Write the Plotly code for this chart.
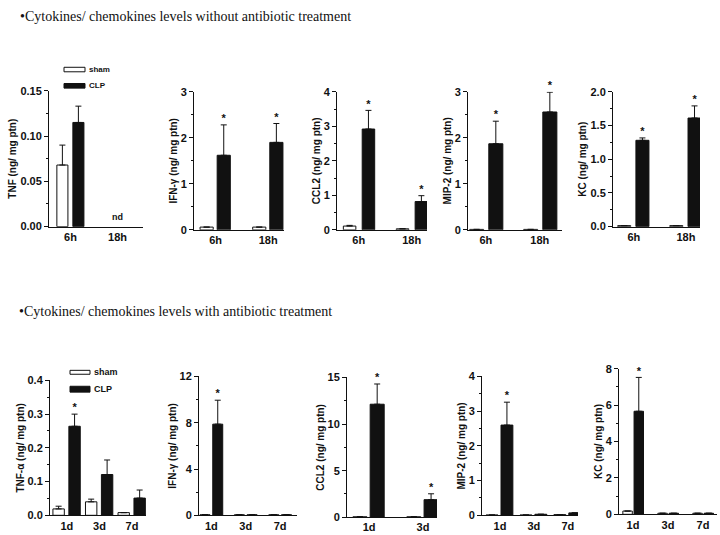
import plotly.graph_objects as go

# ---------------- data ----------------
top_categories = ["6h", "18h"]
bottom_categories = ["1d", "3d", "7d"]
ccl2_abx_categories = ["1d", "3d"]

# without antibiotic treatment
tnf_sham = [0.068, None]
tnf_sham_err = [0.022, None]
tnf_clp = [0.115, None]
tnf_clp_err = [0.018, None]
tnf_sig = [False, False]

ifn_sham = [0.06, 0.06]
ifn_sham_err = [0, 0]
ifn_clp = [1.62, 1.90]
ifn_clp_err = [0.66, 0.41]
ifn_sig = [True, True]

ccl2_sham = [0.11, 0.03]
ccl2_sham_err = [0.02, 0]
ccl2_clp = [2.92, 0.82]
ccl2_clp_err = [0.54, 0.17]
ccl2_sig = [True, True]

mip2_sham = [0.01, 0.01]
mip2_sham_err = [0, 0]
mip2_clp = [1.87, 2.56]
mip2_clp_err = [0.49, 0.43]
mip2_sig = [True, True]

kc_sham = [0.015, 0.015]
kc_sham_err = [0, 0]
kc_clp = [1.28, 1.61]
kc_clp_err = [0.035, 0.18]
kc_sig = [True, True]

# with antibiotic treatment
tnfa_abx_sham = [0.019, 0.040, 0.008]
tnfa_abx_sham_err = [0.008, 0.008, 0]
tnfa_abx_clp = [0.264, 0.121, 0.051]
tnfa_abx_clp_err = [0.036, 0.043, 0.024]
tnfa_abx_sig = [True, False, False]

ifn_abx_sham = [0.05, 0.05, 0.05]
ifn_abx_sham_err = [0, 0, 0]
ifn_abx_clp = [7.88, 0.05, 0.05]
ifn_abx_clp_err = [2.07, 0, 0]
ifn_abx_sig = [True, False, False]

ccl2_abx_sham = [0.05, 0.05]
ccl2_abx_sham_err = [0, 0]
ccl2_abx_clp = [12.13, 1.89]
ccl2_abx_clp_err = [2.17, 0.63]
ccl2_abx_sig = [True, True]

mip2_abx_sham = [0.01, 0.01, 0.02]
mip2_abx_sham_err = [0, 0, 0]
mip2_abx_clp = [2.60, 0.03, 0.07]
mip2_abx_clp_err = [0.66, 0, 0]
mip2_abx_sig = [True, False, False]

kc_abx_sham = [0.18, 0.06, 0.06]
kc_abx_sham_err = [0, 0, 0]
kc_abx_clp = [5.66, 0.06, 0.06]
kc_abx_clp_err = [1.86, 0, 0]
kc_abx_sig = [True, False, False]

y_titles = {
    "tnf": "TNF (ng/ mg ptn)",
    "ifn": "IFN-γ (ng/ mg ptn)",
    "ccl2": "CCL2 (ng/ mg ptn)",
    "mip2": "MIP-2 (ng/ mg ptn)",
    "kc": "KC (ng/ mg ptn)",
    "tnfa": "TNF-α (ng/ mg ptn)",
}
title_top = "•Cytokines/ chemokines levels without antibiotic treatment"
title_bottom = "•Cytokines/ chemokines levels with antibiotic treatment"

# ---------------- layout helpers ----------------
W, H = 720, 535
BLACK = "#111111"


def px_x(p):
    return p / W


def px_y(p):
    return 1 - p / H


panels = [
    # cats, sham, sham_err, clp, clp_err, sig, title, (left,right,top,bottom px), ymax, dtick, fmt, xrange, bar width, sham offset, clp offset
    (top_categories, tnf_sham, tnf_sham_err, tnf_clp, tnf_clp_err, tnf_sig, y_titles["tnf"],
     (49, 143, 86.7, 225.7), 0.15, 0.05, ".2f", [-0.457, 1.54], 0.235, -0.29, 0.05),
    (top_categories, ifn_sham, ifn_sham_err, ifn_clp, ifn_clp_err, ifn_sig, y_titles["ifn"],
     (194, 284, 87.7, 229), 3, 1, "d", [-0.41, 1.30], 0.25, -0.295, 0.03),
    (top_categories, ccl2_sham, ccl2_sham_err, ccl2_clp, ccl2_clp_err, ccl2_sig, y_titles["ccl2"],
     (337, 427, 87.7, 229), 4, 1, "d", [-0.41, 1.29], 0.236, -0.29, 0.066),
    (top_categories, mip2_sham, mip2_sham_err, mip2_clp, mip2_clp_err, mip2_sig, y_titles["mip2"],
     (468, 562, 87.7, 229), 3, 1, "d", [-0.33, 1.41], 0.26, -0.3, 0.055),
    (top_categories, kc_sham, kc_sham_err, kc_clp, kc_clp_err, kc_sig, y_titles["kc"],
     (613, 700, 87.7, 225.7), 2, 0.5, ".1f", [-0.40, 1.27], 0.25, -0.31, 0.04),
    (bottom_categories, tnfa_abx_sham, tnfa_abx_sham_err, tnfa_abx_clp, tnfa_abx_clp_err, tnfa_abx_sig, y_titles["tnfa"],
     (50, 146, 383, 521), 0.4, 0.1, ".1f", [-0.52, 2.43], 0.35, -0.43, 0.06),
    (bottom_categories, ifn_abx_sham, ifn_abx_sham_err, ifn_abx_clp, ifn_abx_clp_err, ifn_abx_sig, y_titles["ifn"],
     (199, 297, 379, 521), 12, 4, "d", [-0.36, 2.49], 0.29, -0.33, 0.04),
    (ccl2_abx_categories, ccl2_abx_sham, ccl2_abx_sham_err, ccl2_abx_clp, ccl2_abx_clp_err, ccl2_abx_sig, y_titles["ccl2"],
     (347, 437, 380, 523), 15, 5, "d", [-0.41, 1.26], 0.26, -0.3, 0.02),
    (bottom_categories, mip2_abx_sham, mip2_abx_sham_err, mip2_abx_clp, mip2_abx_clp_err, mip2_abx_sig, y_titles["mip2"],
     (482, 578, 379, 521), 4, 1, "d", [-0.53, 2.3], 0.35, -0.41, 0.03),
    (bottom_categories, kc_abx_sham, kc_abx_sham_err, kc_abx_clp, kc_abx_clp_err, kc_abx_sig, y_titles["kc"],
     (619, 717, 371, 520), 8, 2, "d", [-0.4, 2.4], 0.27, -0.29, 0.03),
]

fig = go.Figure()
tick_font = dict(family="Liberation Sans", size=11, color=BLACK, weight="bold")
title_font = dict(family="Liberation Sans", size=10, color=BLACK, weight="bold")

layout_axes = {}
for i, (cats, sham, sham_err, clp, clp_err, sig, ytitle, box, ymax, dtick, fmt, xr, bw, so, co) in enumerate(panels):
    n = i + 1
    xa = "x" if n == 1 else f"x{n}"
    ya = "y" if n == 1 else f"y{n}"
    xs = list(range(len(cats)))
    fig.add_trace(go.Bar(
        x=xs, y=sham, width=bw, offset=so, xaxis=xa, yaxis=ya,
        marker=dict(color="white", line=dict(color=BLACK, width=1)),
        error_y=dict(type="data", symmetric=False, array=sham_err,
                     arrayminus=[0] * len(cats), color=BLACK, thickness=1, width=3),
        name="sham", showlegend=False,
    ))
    fig.add_trace(go.Bar(
        x=xs, y=clp, width=bw, offset=co, xaxis=xa, yaxis=ya,
        marker=dict(color=BLACK, line=dict(color=BLACK, width=1)),
        error_y=dict(type="data", symmetric=False, array=clp_err,
                     arrayminus=[0] * len(cats), color=BLACK, thickness=1, width=3),
        name="CLP", showlegend=False,
    ))
    # significance stars, placed just above the error bar tops
    sx, sy = [], []
    for j, s in enumerate(sig):
        if s:
            sx.append(xs[j] + co + bw / 2)
            sy.append(clp[j] + clp_err[j])
    if sx:
        fig.add_trace(go.Scatter(
            x=sx, y=sy, mode="text", text=["*"] * len(sx), textposition="top center",
            textfont=dict(family="Liberation Sans", size=11, color=BLACK, weight="bold"),
            xaxis=xa, yaxis=ya, cliponaxis=False, showlegend=False, hoverinfo="skip",
        ))
    l, r, t, b = box
    key = "" if n == 1 else str(n)
    layout_axes["xaxis" + key] = dict(
        domain=[px_x(l), px_x(r)], anchor=ya, range=xr,
        tickmode="array", tickvals=xs, ticktext=cats,
        showline=True, linecolor=BLACK, linewidth=1, ticks="",
        tickfont=tick_font, showgrid=False, zeroline=False, fixedrange=True,
    )
    layout_axes["yaxis" + key] = dict(
        domain=[px_y(b), px_y(t)], anchor=xa, range=[0, ymax],
        tickmode="linear", tick0=0, dtick=dtick, tickformat=fmt,
        showline=True, linecolor=BLACK, linewidth=1, ticks="outside", ticklen=4,
        tickcolor=BLACK, tickfont=tick_font, showgrid=False, zeroline=False,
        minor=dict(ticks="outside", ticklen=2, dtick=dtick / 2, tickcolor=BLACK, showgrid=False),
        title=dict(text=ytitle, font=title_font, standoff=1),
        fixedrange=True,
    )

fig.update_layout(**layout_axes)

annotations = [
    dict(text=title_top, xref="paper", yref="paper", x=px_x(18), y=px_y(11),
         xanchor="left", yanchor="middle", showarrow=False,
         font=dict(family="Liberation Serif", size=14, color=BLACK)),
    dict(text=title_bottom, xref="paper", yref="paper", x=px_x(17), y=px_y(312),
         xanchor="left", yanchor="middle", showarrow=False,
         font=dict(family="Liberation Serif", size=14, color=BLACK)),
    dict(text="nd", xref="x", yref="y", x=1, y=0, yshift=3, showarrow=False,
         xanchor="center", yanchor="bottom",
         font=dict(family="Liberation Sans", size=9, color=BLACK, weight="bold")),
]

# legends (drawn as keys)
legend_keys = [
    # left, right, top, bottom, fill, label, font size
    (64, 85, 62.7, 67.3, "white", "sham", 8),
    (64, 85, 79.3, 84.0, BLACK, "CLP", 8),
    (70, 90, 372.7, 376.7, "white", "sham", 9),
    (70, 90, 389.0, 395.0, BLACK, "CLP", 9),
]
shapes = []
for l, r, t, b, fill, label, fs in legend_keys:
    shapes.append(dict(type="rect", xref="paper", yref="paper",
                       x0=px_x(l), x1=px_x(r), y0=px_y(b), y1=px_y(t),
                       fillcolor=fill, line=dict(color=BLACK, width=1)))
    annotations.append(dict(text=label, xref="paper", yref="paper",
                            x=px_x(r + 1.5), y=px_y((t + b) / 2),
                            xanchor="left", yanchor="middle", showarrow=False,
                            font=dict(family="Liberation Sans", size=fs, color=BLACK, weight="bold")))

fig.update_layout(
    width=W, height=H, margin=dict(l=0, r=0, t=0, b=0),
    paper_bgcolor="white", plot_bgcolor="white", showlegend=False,
    annotations=annotations, shapes=shapes,
)

fig.write_html(
    "out.html",
    config={"displayModeBar": False},
    post_script="document.body.style.margin='0';document.body.style.overflow='hidden';",
)
